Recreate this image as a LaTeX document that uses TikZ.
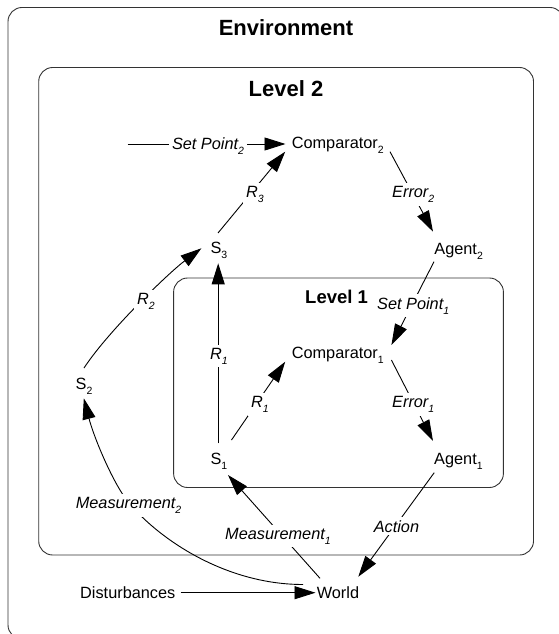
\documentclass[tikz,border=0pt]{standalone}
\usepackage{fontspec}
\setmainfont{Liberation Sans}
\usetikzlibrary{arrows.meta,calc}
\newcommand\sbs[1]{\raisebox{-5bp}{\fontsize{10.5bp}{10.5bp}\selectfont #1}}
\begin{document}
\begin{tikzpicture}[x=1bp,y=-1bp,
  box/.style={draw=black!80, line width=0.9bp, rounded corners=14bp},
  txt/.style={font=\fontsize{16.3bp}{19bp}\selectfont, inner sep=2bp, anchor=base west},
  lbl/.style={font=\fontsize{16.3bp}{19bp}\selectfont\itshape, inner sep=3bp, anchor=base west, fill=white},
  ttl/.style={font=\fontsize{22bp}{26bp}\selectfont\bfseries, inner sep=0pt, anchor=base},
  conn/.style={line width=0.9bp},
  arr/.style={conn, -{Triangle[length=21bp,width=13bp]}}]
\useasboundingbox (0,0) rectangle (559,634);
\clip (0,0) rectangle (559,634);
% boxes
\draw[box] (8,7.5) rectangle (564,639);
\draw[box] (38.7,67.5) rectangle (533.5,555);
\draw[box] (173.6,278) rectangle (503.4,487.5);
% titles
\node[ttl] (tenv) at (286,36) {Environment};
\node[ttl] (tl2) at (286,96.7) {Level 2};
\node[ttl, anchor=base west, font=\fontsize{18.5bp}{22bp}\selectfont\bfseries] (tl1) at (305,303.5) {Level 1};
% main nodes
\node[txt] (c2) at (289.6,148.3) {Comparator\sbs{2}};
\node[txt] (c1) at (289.6,358.5) {Comparator\sbs{1}};
\node[txt] (s3) at (208.3,253) {S\sbs{3}};
\node[txt] (a2) at (432.2,254) {Agent\sbs{2}};
\node[txt] (s2) at (73.5,389) {S\sbs{2}};
\node[txt] (s1) at (208.3,464) {S\sbs{1}};
\node[txt] (a1) at (432,464) {Agent\sbs{1}};
\node[txt] (w) at (314.6,598.5) {World};
\node[txt] (dist) at (78,598.5) {Disturbances};
\coordinate (sp2start) at (127.6,144);
\coordinate (jm2) at (129.8,504);
% connectors
\draw[arr] (sp2start) -- ([shift={(-4.1,-4.3)}]c2.base west);
\draw[arr] ([shift={(9.7,-20)}]s3.base west) -- ([shift={(-4.4,3.4)}]c2.base west);
\draw[arr] ([shift={(100.4,3.4)}]c2.base west) -- ([shift={(0.8,-22.3)}]a2.base west);
\draw[arr] ([shift={(10.5,-21)}]s2.base west) .. controls (108.8,330.2) and (169.4,272.3) .. ([shift={(-6.9,-4.7)}]s3.base west);
\draw[arr] ([shift={(9.9,-20.7)}]s1.base west) -- ([shift={(9.9,10.3)}]s3.base west);
\draw[arr] ([shift={(23.2,-24)}]s1.base west) -- ([shift={(-4.4,3.2)}]c1.base west);
\draw[arr] ([shift={(101.8,1.5)}]c1.base west) -- ([shift={(1,-23)}]a1.base west);
\draw[arr] ([shift={(1.8,7.7)}]a2.base west) -- ([shift={(101.8,-13.5)}]c1.base west);
\draw[arr] ([shift={(2.2,8.7)}]a1.base west) -- ([shift={(43.7,-21.8)}]w.base west);
\draw[arr] ([shift={(5.4,-20.2)}]w.base west) -- ([shift={(19.7,11)}]s1.base west);
\draw[arr] ([shift={(-11.6,-14)}]w.base west) .. controls (228,584.5) and (162.4,542) .. (jm2)
  .. controls (113.5,485) and (93.8,437.1) .. ([shift={(10.3,9.3)}]s2.base west);
\draw[arr] ([shift={(102.7,-5.8)}]dist.base west) -- ([shift={(0.9,-5.8)}]w.base west);
% labels
\node[lbl] (sp2) at (168.8,150) {Set Point\sbs{2}};
\node[lbl] (r3) at (243,197.5) {R\sbs{3}};
\node[lbl] (e2) at (389,197.5) {Error\sbs{2}};
\node[lbl] (r2) at (134,304) {R\sbs{2}};
\node[lbl] (sp1) at (374,309) {Set Point\sbs{1}};
\node[lbl] (r1v) at (207,359) {R\sbs{1}};
\node[lbl] (r1d) at (248,407.5) {R\sbs{1}};
\node[lbl] (e1) at (389,407.5) {Error\sbs{1}};
\node[lbl] (m2) at (72.6,508.5) {Measurement\sbs{2}};
\node[lbl] (m1) at (222,539) {Measurement\sbs{1}};
\node[lbl] (act) at (370.6,532) {Action};
\end{tikzpicture}
\end{document}
